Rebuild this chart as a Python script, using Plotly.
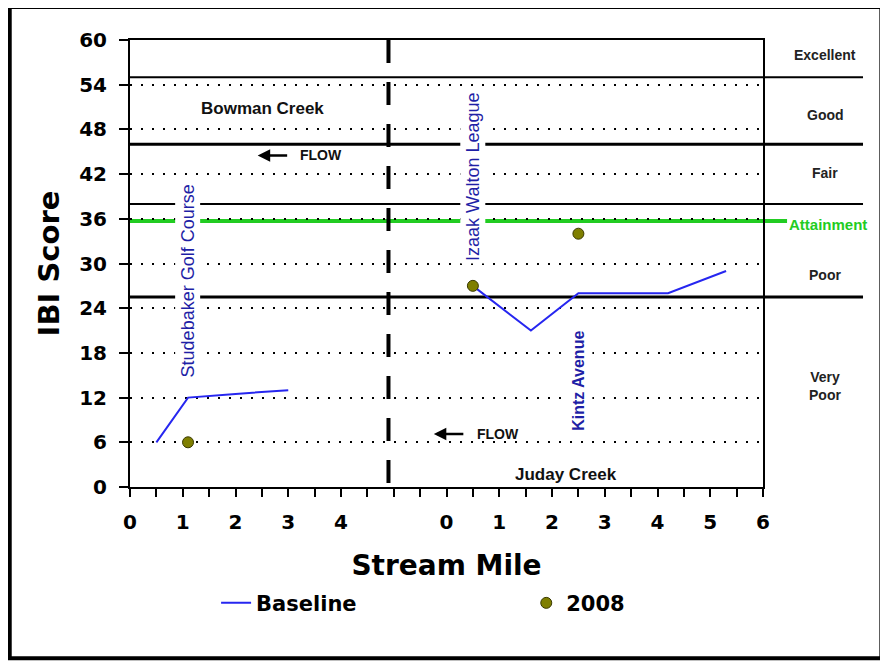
import plotly.graph_objects as go

# ---------------- data ----------------
bowman_mile = [0.5, 1.1, 2.0, 3.0]
bowman_base = [6, 12, 12.5, 13]
bowman_2008_mile = [1.1]
bowman_2008 = [6]

juday_mile = [0.5, 1.6, 2.5, 4.2, 5.3]
juday_base = [27, 21, 26, 26, 29]
juday_2008_mile = [0.5, 2.5]
juday_2008 = [27, 34]

juday_offset = 6          # Juday Creek miles start at position 6 on the shared axis
divider_pos = 4.9         # dashed divider between the two creeks

left_tick_labels = [0, 1, 2, 3, 4]
right_tick_labels = [0, 1, 2, 3, 4, 5, 6]
y_ticks = [0, 6, 12, 18, 24, 30, 36, 42, 48, 54, 60]

class_bounds = [55, 46, 38, 25.5]
attainment = 35.7
class_labels = ["Excellent", "Good", "Fair", "Poor", "Very<br>Poor"]
class_label_y = [58, 50, 42.2, 28.4, 13.5]

site_names = ["Studebaker Golf Course", "Izaak Walton League", "Kintz Avenue"]
site_x = [1.1, 6.5, 8.5]
site_y = [27.6, 41.6, 14.3]

# ---------------- build ----------------
base_x = bowman_mile + [None] + [m + juday_offset for m in juday_mile]
base_y = bowman_base + [None] + juday_base
pt_x = bowman_2008_mile + [m + juday_offset for m in juday_2008_mile]
pt_y = bowman_2008 + juday_2008

tickvals = left_tick_labels + [t + juday_offset for t in right_tick_labels]
ticktext = [str(t) for t in left_tick_labels + right_tick_labels]

BLUE = "#2626f0"
SITE_BLUE = "#1f1fa6"
GREEN = "#22cc22"
OLIVE = "#7f7f00"

fig = go.Figure()
fig.add_trace(go.Scatter(x=base_x, y=base_y, mode="lines", name="Baseline",
                         line=dict(color=BLUE, width=2), connectgaps=False,
                         legend="legend"))
fig.add_trace(go.Scatter(x=pt_x, y=pt_y, mode="markers", name="2008",
                         marker=dict(color=OLIVE, size=11,
                                     line=dict(color="#3a3a00", width=1)),
                         legend="legend2"))

tickfont = dict(family="DejaVu Sans", size=20, color="black", weight="bold")

fig.update_xaxes(range=[0, 12], tickvals=tickvals, ticktext=ticktext,
                 ticks="outside", ticklen=8, tickwidth=2, tickcolor="black",
                 minor=dict(dtick=0.5, tick0=0, ticks="outside", ticklen=8,
                            tickwidth=2, tickcolor="black", showgrid=False),
                 showgrid=False, zeroline=False, showline=True, linecolor="black",
                 linewidth=2, mirror=True, tickfont=tickfont, ticklabelstandoff=8,
                 title=dict(text="Stream Mile", standoff=22,
                            font=dict(family="DejaVu Sans", size=28, color="black",
                                      weight="bold")))
fig.update_yaxes(range=[0, 60], tickvals=y_ticks, ticks="outside", ticklen=9,
                 tickwidth=2, tickcolor="black", showgrid=True, gridcolor="black",
                 gridwidth=1.5, griddash="2px,9px", zeroline=False, showline=True,
                 linecolor="black", linewidth=2, mirror=True, tickfont=tickfont,
                 ticklabelstandoff=8,
                 title=dict(text="IBI Score", standoff=11,
                            font=dict(family="DejaVu Sans", size=29, color="black",
                                      weight="bold")))

# class boundary lines (extend past the plot to the class labels)
widths = [2, 3, 2, 3]
for b, w in zip(class_bounds, widths):
    fig.add_shape(type="line", xref="paper", yref="y", x0=0, x1=1.158, y0=b, y1=b,
                  line=dict(color="black", width=w), layer="below")
fig.add_shape(type="line", xref="paper", yref="y", x0=0, x1=1.038,
              y0=attainment, y1=attainment, line=dict(color=GREEN, width=4),
              layer="below")

# divider
fig.add_shape(type="line", xref="x", yref="y", x0=divider_pos, x1=divider_pos,
              y0=60, y1=0, line=dict(color="black", width=4, dash="23px,19px"))

# class labels on the right
label_font = dict(family="Liberation Sans, Arial", size=14, color="#222222",
                  weight="bold")
for t, yv in zip(class_labels, class_label_y):
    fig.add_annotation(x=1.098, xref="paper", y=yv, yref="y", text=t,
                       xanchor="center", showarrow=False, font=label_font,
                       align="center")
fig.add_annotation(x=1.102, xref="paper", y=attainment, yref="y",
                   text="Attainment", showarrow=False, xanchor="center",
                   font=dict(family="Liberation Sans, Arial", size=15, color=GREEN,
                             weight="bold"), yshift=-3)

# site labels (vertical)
site_sizes = [18, 18, 16]
site_weights = ["normal", "normal", "bold"]
site_pads = [2, 2, 5]
for name, sx, sy, fs, fw, bp in zip(site_names, site_x, site_y, site_sizes,
                                    site_weights, site_pads):
    fig.add_annotation(x=sx, y=sy, text=name, textangle=-90, showarrow=False,
                       bgcolor="white", borderpad=bp,
                       font=dict(family="Liberation Sans, Arial", size=fs,
                                 color=SITE_BLUE, weight=fw))

# creek names
creek_font = dict(family="Liberation Sans, Arial", size=17, color="#111111",
                  weight="bold")
fig.add_annotation(x=2.51, y=50.8, text="Bowman Creek", showarrow=False, font=creek_font)
fig.add_annotation(x=8.26, y=1.7, text="Juday Creek", showarrow=False, font=creek_font)

# flow arrows
flow_font = dict(family="Liberation Sans, Arial", size=14, color="#111111",
                 weight="bold")
for hx, tx, fy in [(2.42, 3.63, 44.5), (5.76, 6.97, 7.1)]:
    fig.add_annotation(x=hx, y=fy, ax=31, ay=0, axref="pixel", ayref="pixel",
                       text="", showarrow=True, arrowhead=2, arrowsize=1,
                       arrowwidth=2.5, arrowcolor="black")
    fig.add_annotation(x=tx, y=fy, text="FLOW", showarrow=False, font=flow_font)

# outer frame
fig.add_shape(type="rect", xref="paper", yref="paper", x0=-0.19, x1=1.187,
              y0=-0.383, y1=1.074, line=dict(color="black", width=4),
              fillcolor="rgba(0,0,0,0)", layer="above")

legend_font = dict(family="DejaVu Sans", size=21, color="black", weight="bold")
# the page body has an 8px margin, so the figure is 8px smaller on each axis
fig.update_layout(
    width=880, height=653,
    margin=dict(l=122, r=125, t=32, b=174, autoexpand=False),
    paper_bgcolor="white", plot_bgcolor="white",
    showlegend=True,
    legend=dict(x=0.136, y=-0.26, xanchor="left", yanchor="middle",
                orientation="h", font=legend_font, bgcolor="rgba(0,0,0,0)"),
    legend2=dict(x=0.626, y=-0.26, xanchor="left", yanchor="middle",
                 orientation="h", font=legend_font, bgcolor="rgba(0,0,0,0)"),
)

fig.write_html("out.html")
